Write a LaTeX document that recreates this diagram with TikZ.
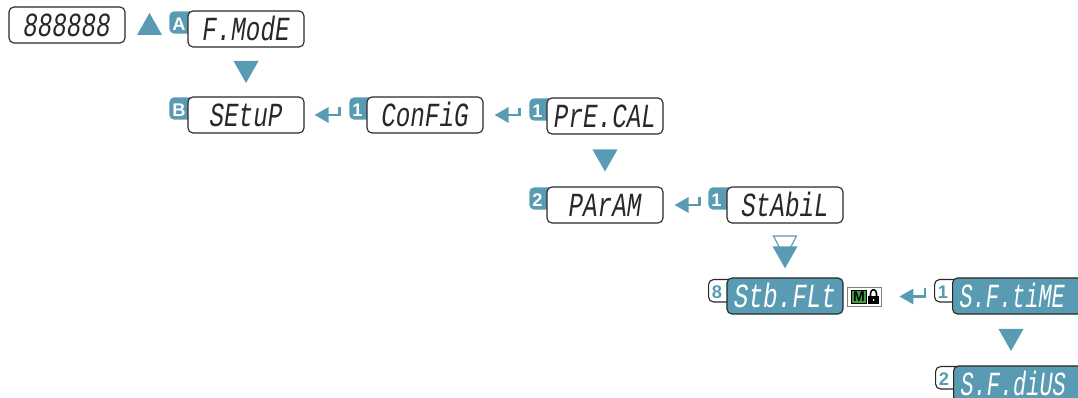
\documentclass[tikz,border=0pt]{standalone}
\usepackage{fontspec}
\usetikzlibrary{arrows.meta}
\newfontfamily\segfont[FakeStretch=0.72]{Liberation Mono}
\newfontfamily\segtight[FakeStretch=0.65]{Liberation Mono}
\newfontfamily\tagfont{Liberation Sans}
\definecolor{appteal}{RGB}{90,155,180}
\definecolor{applock}{RGB}{60,160,60}
\definecolor{appline}{RGB}{40,40,40}
\tikzset{
  disp/.style={draw=appline,line width=0.8pt,fill=white,rounded corners=0.125cm,inner sep=0pt,
    minimum width=2.9cm,minimum height=0.9cm,text height=16pt,text depth=0pt,
    font=\segfont\itshape\fontsize{24}{24}\selectfont,text=appline},
  dispon/.style={disp,fill=appteal,text=white},
  dispwide/.style={dispon,anchor=west,minimum width=0cm,text width=2.9cm,align=left,inner xsep=0.175cm,
    font=\segtight\itshape\fontsize{24}{24}\selectfont},
  tagfill/.style={fill=appteal,text=white,rounded corners=0.125cm,anchor=north west,inner xsep=0.08cm,inner ysep=0pt,
    text width=0.6cm,align=left,minimum height=0.56cm,text height=11.5pt,text depth=0pt,
    font=\tagfont\bfseries\fontsize{13}{13}\selectfont},
  tagline/.style={tagfill,draw=appline,line width=0.8pt,fill=white,text=appteal},
  retarrow/.style={-{Triangle[length=0.35cm,width=0.38cm]},draw=appteal,line width=1.8pt},
  downtri/.pic={\fill[appteal] (-12.5,-11) -- (12.5,-11) -- (0,11) -- cycle;},
  holtri/.pic={\draw[appteal,fill=white,line width=0.8pt] (-11.5,-11) -- (11.5,-11) -- (0,11) -- cycle;}
}
\begin{document}
\begin{tikzpicture}[x=0.025cm,y=-0.025cm]
    \clip (0,0) rectangle (1078,398);

    % Tags behind the displays
    \node[tagfill] (tagA) at (169,11) {A};
    \node[tagfill] (tagB) at (169,97) {B};
    \node[tagfill] (tagcfg) at (349,97) {1};
    \node[tagfill] (tagcal) at (529,98) {1};
    \node[tagfill] (tagpar) at (529,187) {2};
    \node[tagfill] (tagsta) at (708,187) {1};
    \node[tagline] (tagflt) at (708,279) {8};
    \node[tagline] (tagtim) at (934,279) {1};
    \node[tagline] (tagdiu) at (935,366) {2};

    % Displays
    \node[disp] (segall) at (67,25) {888888};
    \node[disp] (fmode) at (246,29) {F.ModE};
    \node[disp] (setup) at (246,115) {SEtuP};
    \node[disp] (config) at (425,115) {ConFiG};
    \node[disp] (precal) at (605,116) {PrE.CAL};
    \node[disp] (param) at (605,205) {PArAM};
    \node[disp] (stabil) at (785,205) {StAbiL};
    \node[dispon] (stbflt) at (785,296) {Stb.FLt};
    \node[dispwide] (sftime) at (952,296) {S.F.tiME};
    \node[dispwide] (sfdius) at (953,384) {S.F.diUS};

    % Mode and lock mark
    \node[draw=gray,fill=white,line width=0.6pt,inner sep=0pt,minimum width=0.85cm,minimum height=0.475cm] (lockicon) at (864,296.5) {};
    \node[draw=black,fill=applock,inner sep=0pt,minimum width=0.38cm,minimum height=0.33cm,font=\tagfont\bfseries\fontsize{10}{10}\selectfont] (lockm) at (859,296.5) {M};
    \draw[line width=1.1pt] (870.5,297) -- (870.5,293.5) .. controls (870.5,288.5) and (876.5,288.5) .. (876.5,293.5) -- (876.5,297);
    \fill (868,296) rectangle (879,304);
    \fill[white] (873.5,300) circle [radius=1];

    % Up and down steps
    \path (149.5,24) pic[rotate=180] {downtri};
    \path (fmode.south) -- (setup.north) pic[pos=0.5] {downtri};
    \path (precal.south) -- (param.north) pic[pos=0.5] {downtri};
    \path (stabil.south) -- (stbflt.north) pic[pos=0.436] {holtri} pic[pos=0.627] {downtri};
    \path ([shift={(59,0)}]sftime.south west) -- ([shift={(58,0)}]sfdius.north west) pic[pos=0.5] {downtri};

    % Return arrows
    \draw[retarrow] ([shift={(-27,-8)}]config.west) |- ([shift={(10,0)}]setup.east);
    \draw[retarrow] ([shift={(-27,-8)}]precal.west) |- ([shift={(11,0)}]config.east);
    \draw[retarrow] ([shift={(-27,-8)}]stabil.west) |- ([shift={(11,0)}]param.east);
    \draw[retarrow] ([shift={(-27,-8)}]sftime.west) |- ([shift={(18,0)}]lockicon.east);
\end{tikzpicture}
\end{document}
